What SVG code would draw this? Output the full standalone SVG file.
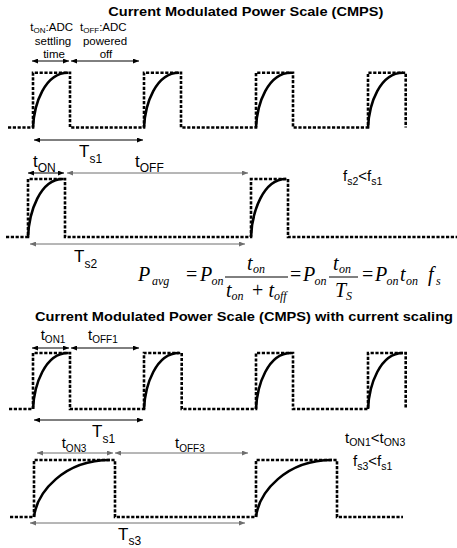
<svg xmlns="http://www.w3.org/2000/svg" width="457" height="548" viewBox="0 0 457 548">
<defs>
<marker id="ab" viewBox="0 0 6 5" refX="6" refY="2.5" markerWidth="6" markerHeight="5" orient="auto-start-reverse" markerUnits="userSpaceOnUse"><path d="M0,0L6,2.5L0,5z" fill="#000"/></marker>
<marker id="ag" viewBox="0 0 6 5" refX="6" refY="2.5" markerWidth="6" markerHeight="5" orient="auto-start-reverse" markerUnits="userSpaceOnUse"><path d="M0,0L6,2.5L0,5z" fill="#6e6e6e"/></marker>
</defs>
<style>
.dot{fill:none;stroke:#000;stroke-width:2.6;stroke-dasharray:3.2 1.6}
.crv{fill:none;stroke:#000;stroke-width:2.6}
.ar{stroke:#000;stroke-width:1;marker-start:url(#ab);marker-end:url(#ab)}
.ag{stroke:#6e6e6e;stroke-width:1;marker-start:url(#ag);marker-end:url(#ag)}
.t{font-family:"Liberation Sans",Arial,sans-serif;fill:#000}
.title{font-weight:bold;font-size:13px}
.s{font-size:11.5px}
.b{font-size:17px}
.c{font-size:15px}
.m{font-family:"Liberation Serif","Times New Roman",serif;font-style:italic;font-size:20px;fill:#000}
.mu{font-style:normal}
.ms{font-size:12px}
</style>

<g id="title1"><text class="t title" x="108.3" y="16" textLength="275" lengthAdjust="spacingAndGlyphs">Current Modulated Power Scale (CMPS)</text></g>

<g id="wave1">
<path class="dot" d="M8,127.5H33V72.7H70V127.5H144V72.7H181V127.5H256V72.7H293V127.5H368V72.7H405.7V127.5"/>
<path class="crv" d="M33,127.5c1,-24 12,-54.8 35,-54.8M144,127.5c1,-24 12,-54.8 35,-54.8M256,127.5c1,-24 12,-54.8 35,-54.8M368,127.5c1,-24 12,-54.8 35,-54.8"/>
</g>

<g id="wave2">
<path class="dot" d="M6,237H28V179H65V237H251V179H288V237H457"/>
<path class="crv" d="M28,237c1,-25 12,-58 35,-58M251,237c1,-25 12,-58 35,-58"/>
</g>

<g id="wave3">
<path class="dot" d="M9,409H33V353H70V409H144V353H181.7V409H256V353H293V409H368V353H405.7V409"/>
<path class="crv" d="M33,409c1,-24 12,-56 35,-56M144,409c1,-24 12,-56 35,-56M256,409c1,-24 12,-56 35,-56M368,409c1,-24 12,-56 35,-56"/>
</g>

<g id="wave4">
<path class="dot" d="M10,517H34V460H115V517H256V460H337V517H403"/>
<path class="crv" d="M34,517c3,-25 30,-57 76,-57M256,517c3,-25 30,-57 76,-57"/>
</g>

<g id="connectors">
<line class="ar" x1="32" y1="61" x2="69" y2="61"/>
<line class="ar" x1="71" y1="61" x2="139" y2="61"/>
<line class="ar" x1="34" y1="140" x2="143" y2="140"/>
<line class="ar" x1="28" y1="173" x2="64" y2="173"/>
<line class="ag" x1="67" y1="173" x2="248" y2="173"/>
<line class="ag" x1="30" y1="244" x2="245" y2="244"/>
<line class="ar" x1="32" y1="348" x2="69" y2="348"/>
<line class="ar" x1="71" y1="348" x2="139" y2="348"/>
<line class="ar" x1="34" y1="420" x2="143" y2="420"/>
<line class="ag" x1="37" y1="453" x2="113" y2="453"/>
<line class="ag" x1="115" y1="453" x2="248" y2="453"/>
<line class="ag" x1="30" y1="523" x2="245" y2="523"/>
</g>

<g id="labels1">
<text class="t s" x="51.7" y="31" text-anchor="middle">t<tspan font-size="8" dy="2">ON</tspan><tspan dy="-2">:ADC</tspan></text>
<text class="t s" x="53" y="44.5" text-anchor="middle">settling</text>
<text class="t s" x="54" y="57.5" text-anchor="middle">time</text>
<text class="t s" x="103.3" y="31" text-anchor="middle">t<tspan font-size="8" dy="2">OFF</tspan><tspan dy="-2">:ADC</tspan></text>
<text class="t s" x="105" y="44.5" text-anchor="middle">powered</text>
<text class="t s" x="106" y="57.5" text-anchor="middle">off</text>
<text class="t b" x="79" y="157">T<tspan font-size="12" dy="6">s1</tspan></text>
</g>

<g id="labels2">
<text class="t b" x="33" y="167">t<tspan font-size="12" dy="4.5">ON</tspan></text>
<text class="t b" x="135" y="167">t<tspan font-size="12" dy="4.5">OFF</tspan></text>
<text class="t b" x="74" y="262">T<tspan font-size="12" dy="6">s2</tspan></text>
<text class="t" font-size="15" x="343" y="181">f<tspan font-size="10.5" dy="3.5">s2</tspan><tspan dy="-3.5">&lt;f</tspan><tspan font-size="10.5" dy="3.5">s1</tspan></text>
</g>

<g id="formula">
<text class="m" x="138" y="281">P</text>
<text class="m ms" x="152" y="285">avg</text>
<text class="m mu" x="186" y="281">=</text>
<text class="m" x="200" y="281">P</text>
<text class="m ms" x="211.5" y="285">on</text>
<line x1="225" y1="277" x2="288" y2="277" stroke="#000" stroke-width="1"/>
<text class="m" x="247" y="270">t</text>
<text class="m ms" x="253" y="273">on</text>
<text class="m" x="226" y="296.5">t</text>
<text class="m ms" x="231.5" y="300">on</text>
<text class="m mu" x="252" y="296.5">+</text>
<text class="m" x="268.5" y="296.5">t</text>
<text class="m ms" x="274" y="300">off</text>
<text class="m mu" x="290" y="281">=</text>
<text class="m" x="303" y="281">P</text>
<text class="m ms" x="314.5" y="285">on</text>
<line x1="329" y1="277" x2="358" y2="277" stroke="#000" stroke-width="1"/>
<text class="m" x="333" y="270">t</text>
<text class="m ms" x="339" y="273">on</text>
<text class="m" x="335" y="296.5">T</text>
<text class="m ms" x="346" y="300">S</text>
<text class="m mu" x="362" y="281">=</text>
<text class="m" x="375" y="281">P</text>
<text class="m ms" x="386.5" y="285">on</text>
<text class="m" x="400" y="281">t</text>
<text class="m ms" x="406" y="285">on</text>
<text class="m" x="428" y="281">f</text>
<text class="m ms" x="436" y="285">s</text>
</g>

<g id="title2"><text class="t title" x="35" y="320.7" textLength="418" lengthAdjust="spacingAndGlyphs">Current Modulated Power Scale (CMPS) with current scaling</text></g>

<g id="labels3">
<text class="t c" x="40.7" y="340">t<tspan font-size="10" dy="3.3">ON1</tspan></text>
<text class="t c" x="88" y="340">t<tspan font-size="10" dy="3.3">OFF1</tspan></text>
<text class="t b" x="92" y="437">T<tspan font-size="12" dy="6">s1</tspan></text>
</g>

<g id="labels4">
<text class="t c" x="61.7" y="448">t<tspan font-size="10" dy="3.5">ON3</tspan></text>
<text class="t c" x="175" y="448">t<tspan font-size="10" dy="3.5">OFF3</tspan></text>
<text class="t b" x="118" y="540">T<tspan font-size="12" dy="5">s3</tspan></text>
<text class="t" font-size="15" x="345" y="443">t<tspan font-size="10.5" dy="3">ON1</tspan><tspan dy="-3">&lt;t</tspan><tspan font-size="10.5" dy="3">ON3</tspan></text>
<text class="t" font-size="15" x="353" y="466">f<tspan font-size="10.5" dy="4">s3</tspan><tspan dy="-4">&lt;f</tspan><tspan font-size="10.5" dy="4">s1</tspan></text>
</g>
</svg>
